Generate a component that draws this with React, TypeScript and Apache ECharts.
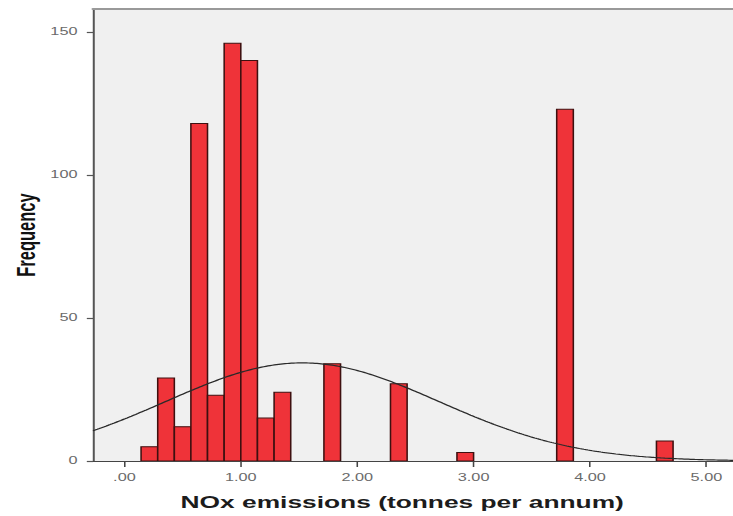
import React, { useEffect, useRef } from "react";
import * as echarts from "echarts";

// Histogram of NOx emissions: bins are 1/7 tonne wide.
const binWidth = 1 / 7;
const binStarts = [0.143, 0.286, 0.429, 0.571, 0.714, 0.857, 1.0, 1.143, 1.286, 1.714, 2.286, 2.857, 3.714, 4.571];
const frequencies = [5, 29, 12, 118, 23, 146, 140, 15, 24, 34, 27, 3, 123, 7];

const xTicks = [0, 1, 2, 3, 4, 5];
const xTickLabels = [".00", "1.00", "2.00", "3.00", "4.00", "5.00"];
const yTicks = [0, 50, 100, 150];

const X_MIN = -0.27;
const X_MAX = 5.23;
const Y_MAX = 158;

// The chart is laid out narrow and widened horizontally by this factor.
const STRETCH = 1.55;
const OUTER_W = 733;
const OUTER_H = 516;
const INNER_W = OUTER_W / STRETCH;

const FONT = "'Liberation Sans', Arial, sans-serif";

// Normal curve fitted to the binned data (mean and SD from bin midpoints).
function fittedCurve(): number[][] {
  let n = 0;
  let sum = 0;
  let sumSq = 0;
  binStarts.forEach((s, i) => {
    const mid = s + binWidth / 2;
    const f = frequencies[i];
    n += f;
    sum += f * mid;
    sumSq += f * mid * mid;
  });
  const mean = sum / n;
  const sd = Math.sqrt(sumSq / n - mean * mean);
  const scale = (n * binWidth) / (sd * Math.sqrt(2 * Math.PI));
  const pts: number[][] = [];
  const steps = 300;
  for (let i = 0; i <= steps; i++) {
    const x = X_MIN + ((X_MAX - X_MIN) * i) / steps;
    const z = (x - mean) / sd;
    pts.push([x, scale * Math.exp(-0.5 * z * z)]);
  }
  return pts;
}

export default function App() {
  const ref = useRef<HTMLDivElement>(null);

  useEffect(() => {
    if (!ref.current) return;
    const chart = echarts.init(ref.current, undefined, { renderer: "svg" });

    const histData = binStarts.map((s, i) => [s, s + binWidth, frequencies[i]]);

    chart.setOption({
      animation: false,
      backgroundColor: "#ffffff",
      grid: {
        left: 93 / STRETCH,
        right: 0,
        top: 9,
        bottom: 55,
        outerBoundsMode: "none",
        containLabel: false,
        show: true,
        backgroundColor: "#f0f0f0",
        borderWidth: 0,
      },
      xAxis: [
        {
          type: "value",
          min: X_MIN,
          max: X_MAX,
          position: "bottom",
          name: "NOx emissions (tonnes per annum)",
          nameLocation: "middle",
          nameGap: 33,
          nameMoveOverlap: false,
          nameTextStyle: {
            fontFamily: FONT,
            fontSize: 17,
            fontWeight: "bold",
            color: "#1c1c1c",
            padding: [0, 14, 0, 0],
          },
          axisLine: { show: true, onZero: false, lineStyle: { color: "#444", width: 1.2 } },
          axisTick: {
            show: true,
            length: 6,
            customValues: xTicks,
            lineStyle: { color: "#444", width: 1 },
          },
          axisLabel: {
            customValues: xTicks,
            margin: 11,
            fontFamily: FONT,
            fontSize: 10.5,
            color: "#6a6a6a",
            formatter: (v: number) => {
              const i = xTicks.indexOf(Math.round(v));
              return i >= 0 ? xTickLabels[i] : "";
            },
          },
          splitLine: { show: false },
        },
        {
          type: "value",
          min: X_MIN,
          max: X_MAX,
          position: "top",
          axisLine: { show: true, onZero: false, lineStyle: { color: "#999", width: 2 } },
          axisTick: { show: false },
          axisLabel: { show: false },
          splitLine: { show: false },
        },
      ],
      yAxis: {
        type: "value",
        min: 0,
        max: Y_MAX,
        name: "Frequency",
        nameLocation: "middle",
        nameGap: 34.5,
        nameMoveOverlap: false,
        nameTextStyle: {
          fontFamily: FONT,
          fontSize: 16.5,
          fontWeight: "bold",
          color: "#111",
        },
        axisLine: { show: true, onZero: false, lineStyle: { color: "#555", width: 1.3 } },
        axisTick: {
          show: true,
          length: 4,
          customValues: yTicks,
          lineStyle: { color: "#555", width: 1.2 },
        },
        axisLabel: {
          customValues: yTicks,
          margin: 10,
          fontFamily: FONT,
          fontSize: 10.5,
          color: "#6a6a6a",
        },
        splitLine: { show: false },
      },
      series: [
        {
          type: "custom",
          name: "Frequency",
          xAxisIndex: 0,
          data: histData,
          encode: { x: [0, 1], y: 2 },
          clip: true,
          z: 2,
          renderItem: (_params: any, api: any) => {
            const x0 = api.value(0);
            const x1 = api.value(1);
            const n = api.value(2);
            const topLeft = api.coord([x0, n]);
            const bottomRight = api.coord([x1, 0]);
            return {
              type: "rect",
              shape: {
                x: topLeft[0],
                y: topLeft[1],
                width: bottomRight[0] - topLeft[0],
                height: bottomRight[1] - topLeft[1],
              },
              style: {
                fill: "#ef3339",
                stroke: "#3e1010",
                lineWidth: 1,
              },
            };
          },
        },
        {
          type: "line",
          name: "Normal",
          xAxisIndex: 0,
          data: fittedCurve(),
          showSymbol: false,
          smooth: false,
          z: 3,
          lineStyle: { color: "#2a2a2a", width: 1.2 },
        },
      ],
    });

    return () => chart.dispose();
  }, []);

  return (
    <div
      style={{
        position: "fixed",
        left: 0,
        top: 0,
        width: OUTER_W,
        height: OUTER_H,
        overflow: "hidden",
        background: "#fff",
      }}
    >
      <div
        ref={ref}
        style={{
          width: INNER_W,
          height: OUTER_H,
          transform: `scaleX(${STRETCH})`,
          transformOrigin: "0 0",
        }}
      />
    </div>
  );
}
